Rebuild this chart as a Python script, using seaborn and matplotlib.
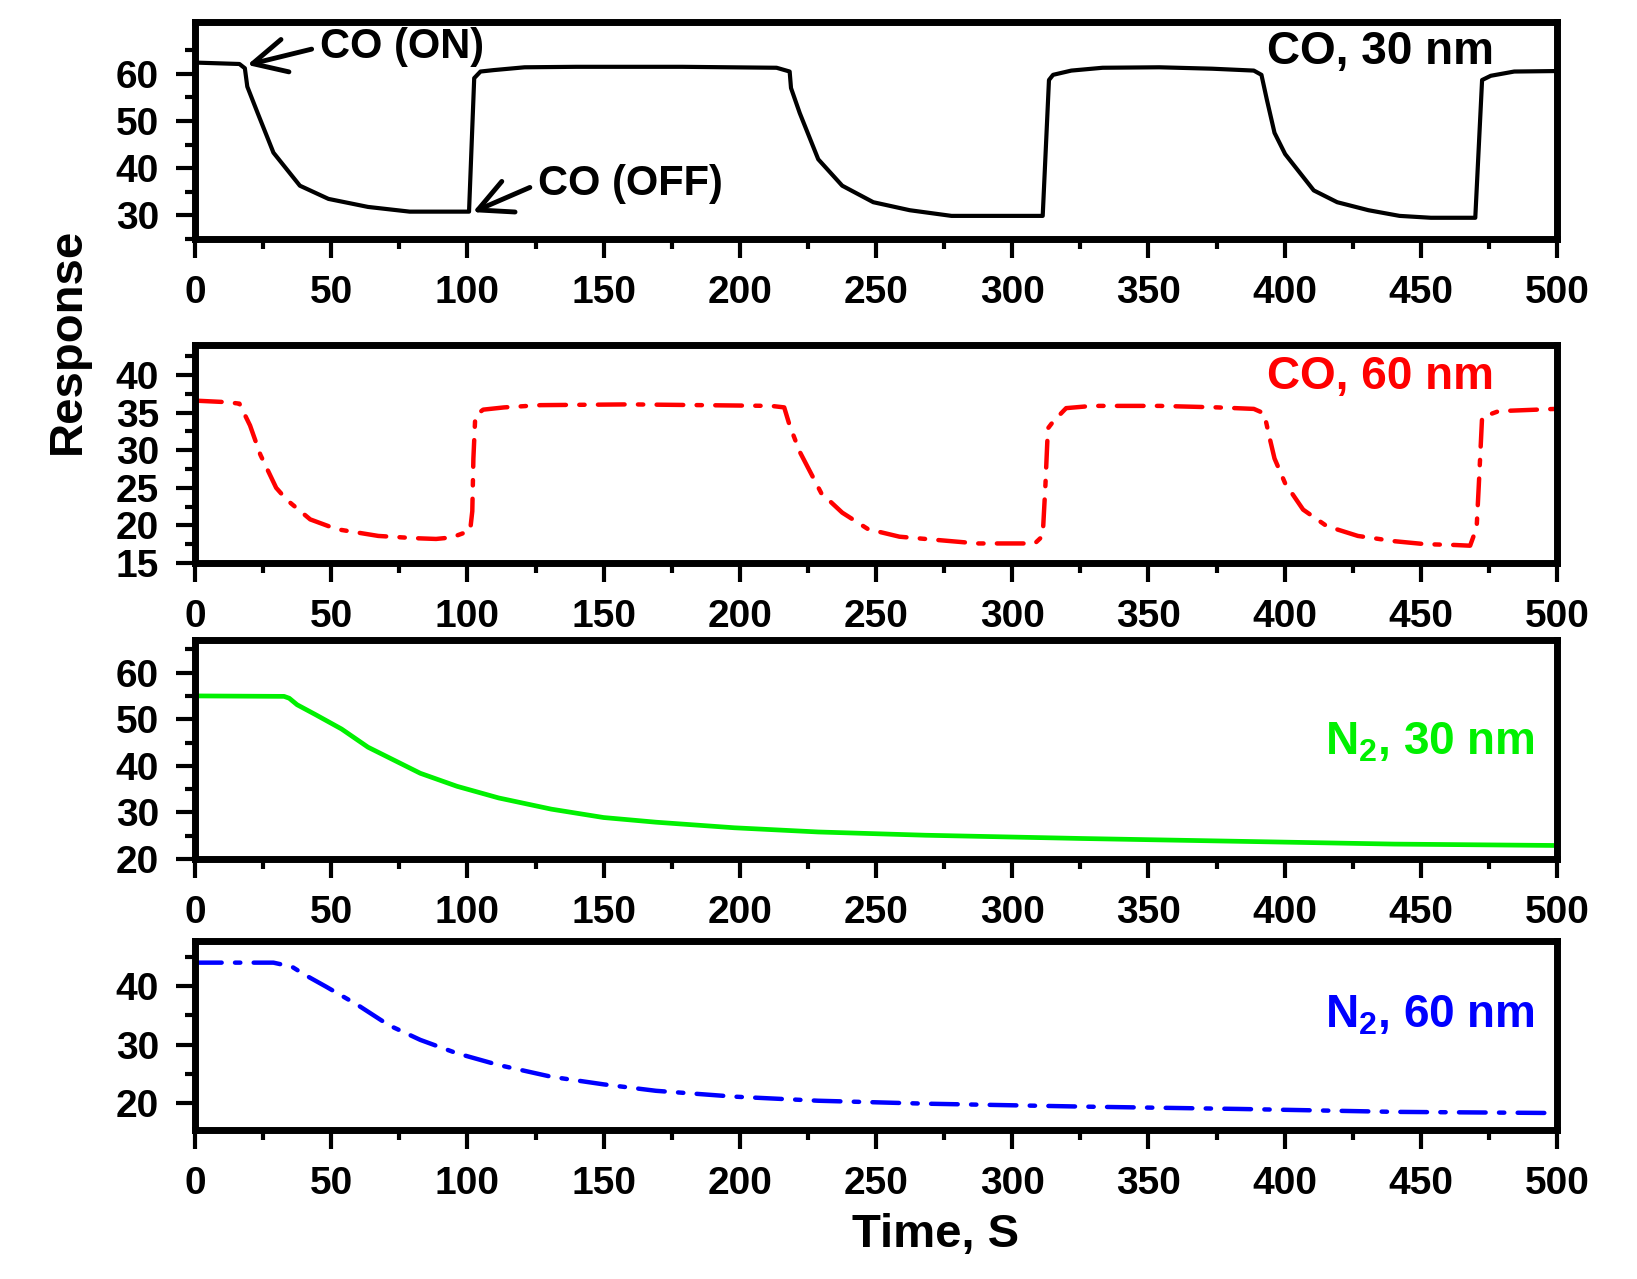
import numpy as np
import pandas as pd
import matplotlib
matplotlib.use("Agg")
import matplotlib.pyplot as plt
from matplotlib.ticker import MultipleLocator, FixedLocator
import seaborn as sns

# ---------------- data ----------------
co30_t = [0, 16.3, 18.3, 19.2, 23.0, 28.8, 38.5, 49.0, 63.5, 78.8, 100.6,
          102.5, 104.8, 109.6, 121.0, 140.0, 178.8, 213.5, 218.3, 218.8, 222.0,
          228.8, 237.6, 249.0, 262.4, 277.7, 311.2, 313.5, 315.0, 321.7, 333.2,
          354.0, 373.4, 388.7, 391.5, 393.5, 396.3, 400.2, 410.7, 419.3, 430.8,
          442.2, 453.7, 470.0, 472.5, 475.7, 484.3, 499.6]
co30_r = [62.4, 62.1, 61.2, 57.3, 51.7, 43.3, 36.3, 33.5, 31.8, 30.8, 30.8,
          59.1, 60.5, 60.8, 61.4, 61.5, 61.5, 61.3, 60.5, 57.0, 51.7,
          41.9, 36.3, 32.8, 31.1, 29.9, 29.9, 58.7, 59.8, 60.7, 61.3,
          61.4, 61.1, 60.7, 59.8, 54.5, 47.5, 43.0, 35.3, 32.8, 31.1,
          29.9, 29.5, 29.5, 58.7, 59.6, 60.5, 60.6]

co60_t = [0, 11.5, 16.3, 20.2, 24.0, 29.8, 33.7, 42.3, 52.0, 67.3, 80.8, 88.5,
          94.2, 101.0, 101.8, 102.2, 102.9, 105.8, 113.5, 126.9, 159.6, 211.5,
          216.3, 218.3, 222.0, 229.9, 237.6, 247.1, 258.6, 277.7, 287.3, 308.3,
          311.2, 312.2, 313.1, 315.0, 319.8, 329.4, 354.2, 375.3, 388.7, 392.5,
          394.4, 396.3, 400.2, 406.8, 415.5, 426.9, 440.3, 451.8, 462.3, 468.1,
          470.5, 471.3, 472.5, 478.6, 499.6]
co60_r = [36.6, 36.4, 36.2, 33.3, 29.4, 25.0, 23.4, 20.8, 19.5, 18.6, 18.3, 18.2,
          18.4, 19.3, 21.9, 28.9, 34.6, 35.4, 35.7, 36.0, 36.1, 35.9,
          35.7, 33.3, 29.8, 24.3, 21.7, 19.5, 18.5, 17.9, 17.6, 17.6,
          18.6, 25.4, 32.9, 33.8, 35.6, 35.9, 35.9, 35.7, 35.5, 34.9,
          31.8, 28.9, 25.6, 22.1, 19.9, 18.6, 17.9, 17.5, 17.4, 17.3,
          19.7, 25.4, 34.4, 35.2, 35.5]

n30_t = [0, 32.7, 34.6, 37.5, 44.2, 53.8, 63.5, 73.1, 82.7, 96.2, 111.5, 130.8,
         150.0, 169.2, 198.0, 228.8, 268.2, 325.6, 382.9, 440.3, 499.6]
n30_r = [55.0, 54.9, 54.5, 53.1, 51.0, 47.9, 44.0, 41.2, 38.4, 35.6, 33.1, 30.7,
         28.9, 27.9, 26.7, 25.8, 25.1, 24.4, 23.8, 23.2, 22.9]

n60_t = [0, 28.8, 35.6, 40.4, 48.1, 59.6, 71.2, 82.7, 96.2, 111.5, 130.8, 150.0,
         169.2, 198.0, 228.8, 268.2, 325.6, 382.9, 440.3, 499.6]
n60_r = [44.0, 44.0, 43.3, 41.9, 39.9, 36.8, 33.3, 30.8, 28.5, 26.5, 24.5, 23.2,
         22.1, 21.1, 20.4, 19.9, 19.4, 19.0, 18.5, 18.3]

panel_labels = ["CO, 30 nm", "CO, 60 nm", r"N$_2$, 30 nm", r"N$_2$, 60 nm"]
x_ticks = [0, 50, 100, 150, 200, 250, 300, 350, 400, 450, 500]
y_major = [[30, 40, 50, 60], [15, 20, 25, 30, 35, 40],
           [20, 30, 40, 50, 60], [20, 30, 40]]
y_minor = [[25, 35, 45, 55, 65], [17.5, 22.5, 27.5, 32.5, 37.5, 42.5],
           [25, 35, 45, 55, 65], [15, 25, 35, 45]]

# ---------------- style ----------------
sns.set_theme(style="ticks")
plt.rcParams['font.family'] = ['Liberation Sans', 'DejaVu Sans']
plt.rcParams['font.weight'] = 'bold'
plt.rcParams['mathtext.default'] = 'regular'
plt.rcParams['text.color'] = 'black'
plt.rcParams['axes.edgecolor'] = 'black'
plt.rcParams['xtick.color'] = 'black'
plt.rcParams['ytick.color'] = 'black'
plt.rcParams['axes.linewidth'] = 5

fig = plt.figure(figsize=(16.37, 12.79), dpi=100)
L, W = 195 / 1637, (1557 - 195) / 1637
H = 1279
boxes = [(22, 239), (345, 563), (640, 859), (941, 1130)]
axes = [fig.add_axes([L, 1 - b / H, W, (b - t) / H]) for t, b in boxes]

series = [(co30_t, co30_r, 'black', None, 3.0),
          (co60_t, co60_r, '#ff0000', [6.0, 3.0, 1.2, 3.0], 3.2),
          (n30_t, n30_r, '#00f000', None, 3.4),
          (n60_t, n60_r, '#0000ff', [6.0, 3.0, 1.2, 3.0], 3.2)]
ylims = [(25, 71), (15, 44), (20, 67), (15.4, 47.7)]
label_pos = [(477, 64.7, 'right'), (477, 39.8, 'right'),
             (492, 45.0, 'right'), (492, 35.0, 'right')]

for i, ax in enumerate(axes):
    t, r, col, dash, lw = series[i]
    df = pd.DataFrame({"Time": t, "Response": r})
    sns.lineplot(data=df, x="Time", y="Response", ax=ax, color=col,
                 linewidth=lw, sort=False, estimator=None)
    if dash is not None:
        ax.lines[-1].set_dashes(dash)
        ax.lines[-1].set_dash_capstyle('round')
    ax.set_xlim(0, 500)
    ax.set_xticks(x_ticks)
    ax.xaxis.set_minor_locator(MultipleLocator(25))
    ax.yaxis.set_major_locator(FixedLocator(y_major[i]))
    ax.yaxis.set_minor_locator(FixedLocator(y_minor[i]))
    ax.set_ylim(*ylims[i])
    for s in ax.spines.values():
        s.set_visible(True)
        s.set_linewidth(5)
        s.set_color('black')
    ax.tick_params(which='major', direction='out', length=14, width=3,
                   labelsize=28, pad=12, colors='black')
    ax.tick_params(which='minor', direction='out', length=7, width=3,
                   colors='black')
    ax.tick_params(axis='y', which='both', right=False)
    ax.tick_params(axis='x', which='both', top=False)
    for lab in ax.get_xticklabels() + ax.get_yticklabels():
        lab.set_fontweight('bold')
    ax.set_xlabel("")
    ax.set_ylabel("")
    ax.grid(False)
    lx, ly, ha = label_pos[i]
    ax.text(lx, ly, panel_labels[i], color=col, fontsize=33,
            fontweight='bold', ha=ha, va='center')

# annotations on the top panel
arrow = dict(arrowstyle='->,head_length=0.8,head_width=0.4', lw=3.5,
             color='black', relpos=(0, 0.5), shrinkA=4, shrinkB=0)
axes[0].annotate("CO (ON)", xy=(19.2, 61.9), xytext=(46, 65.7),
                 fontsize=30, fontweight='bold', ha='left', va='center',
                 color='black', arrowprops=arrow)
axes[0].annotate("CO (OFF)", xy=(102, 30.7), xytext=(126, 36.7),
                 fontsize=30, fontweight='bold', ha='left', va='center',
                 color='black', arrowprops=arrow)

fig.text(68 / 1637, 1 - 341 / H, "Response", rotation=90, fontsize=34,
         fontweight='bold', ha='center', va='center', color='black')
fig.text(936 / 1637, 1 - 1235 / H, "Time, S", fontsize=34,
         fontweight='bold', ha='center', va='center', color='black')

fig.savefig("out.png", dpi=100, facecolor='white')
